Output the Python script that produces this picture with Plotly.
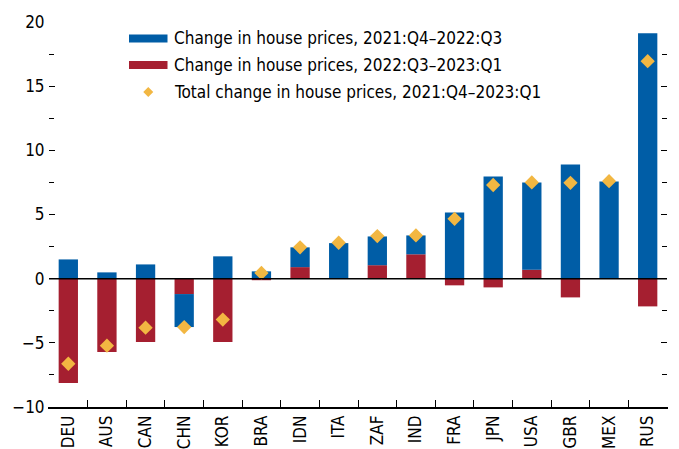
import plotly.graph_objects as go

countries = ["DEU", "AUS", "CAN", "CHN", "KOR", "BRA", "IDN", "ITA", "ZAF", "IND",
             "FRA", "JPN", "USA", "GBR", "MEX", "RUS"]
change_2021q4_2022q3 = [1.5, 0.49, 1.11, -2.57, 1.74, 0.57, 1.54, 2.77, 2.24, 1.47,
                        5.16, 7.97, 6.8, 8.9, 7.58, 19.12]
change_2022q3_2023q1 = [-8.13, -5.71, -4.93, -1.2, -4.93, -0.12, 0.9, 0.0, 1.05, 1.9,
                        -0.52, -0.68, 0.7, -1.46, 0.0, -2.16]
total_change = [-6.63, -5.22, -3.82, -3.77, -3.19, 0.45, 2.44, 2.8, 3.32, 3.37,
                4.66, 7.3, 7.5, 7.47, 7.6, 16.95]
legend_labels = ["Change in house prices, 2021:Q4\u20132022:Q3",
                 "Change in house prices, 2022:Q3\u20132023:Q1",
                 "Total change in house prices, 2021:Q4\u20132023:Q1"]

BLUE = "#005DA6"
RED = "#A51F30"
GOLD = "#F2B742"
FONT = "DejaVu Sans Condensed"

# the page body adds an 8px offset, so the figure is sized to the remaining view
OFF = 8
W, H = 679 - OFF, 449 - OFF
ML, MR, MT, MB = 49 - OFF, 12, 21.5 - OFF, 42.3
PW, PH = W - ML - MR, H - MT - MB

fig = go.Figure()
# red drawn first so it stacks nearest zero
fig.add_trace(go.Bar(x=countries, y=change_2022q3_2023q1, marker_color=RED,
                     marker_line_width=0, name=legend_labels[1], showlegend=False))
fig.add_trace(go.Bar(x=countries, y=change_2021q4_2022q3, marker_color=BLUE,
                     marker_line_width=0, name=legend_labels[0], showlegend=False))
fig.add_trace(go.Scatter(x=countries, y=total_change, mode="markers",
                         marker=dict(symbol="diamond", size=11, color=GOLD),
                         name=legend_labels[2], showlegend=False))

fig.add_hline(y=0, line_color="black", line_width=1.5, layer="above")

# custom legend (reference pixel positions converted to paper coords)
def px(x):
    return (x - OFF - ML) / PW
def py(y):
    return 1 - (y - OFF - MT) / PH

sw_x0, sw_x1 = 129, 167.5
row_y = [38, 64.5, 91.5]
fig.add_shape(type="rect", xref="paper", yref="paper", x0=px(sw_x0), x1=px(sw_x1),
              y0=py(row_y[0] + 4), y1=py(row_y[0] - 4), fillcolor=BLUE, line_width=0)
fig.add_shape(type="rect", xref="paper", yref="paper", x0=px(sw_x0), x1=px(sw_x1),
              y0=py(row_y[1] + 4), y1=py(row_y[1] - 4), fillcolor=RED, line_width=0)
cx, cy, d = (sw_x0 + sw_x1) / 2, row_y[2], 5
fig.add_shape(type="path", xref="paper", yref="paper",
              path=f"M {px(cx)} {py(cy - d)} L {px(cx + d)} {py(cy)} L {px(cx)} {py(cy + d)} "
                   f"L {px(cx - d)} {py(cy)} Z",
              fillcolor=GOLD, line_width=0)
for r, t in zip(row_y, legend_labels):
    fig.add_annotation(x=px(174), y=py(r), xref="paper", yref="paper", text=t,
                       showarrow=False, xanchor="left", yanchor="middle",
                       xshift=-2, font=dict(size=17, color="black", family=FONT))

fig.update_layout(
    template="none",
    barmode="relative",
    bargap=0.5,
    width=W, height=H,
    autosize=False,
    margin=dict(l=ML, r=MR, t=MT, b=MB, pad=0, autoexpand=False),
    plot_bgcolor="white", paper_bgcolor="white",
    font=dict(family=FONT, size=17, color="black"),
    xaxis=dict(showline=True, linecolor="black", linewidth=1.5, ticks="inside",
               tickson="boundaries", ticklen=7, tickcolor="black", tickwidth=1.2,
               tickangle=-90, range=[-0.5, 15.5], showgrid=False,
               automargin=False, tickfont=dict(size=17)),
    yaxis=dict(range=[-10, 20], tickvals=[-10, -5, 0, 5, 10, 15, 20],
               ticktext=["\u221210", "\u22125", "0", "5", "10", "15", "20"],
               ticks="inside", ticklen=6, tickcolor="black", tickwidth=1.2,
               mirror="ticks", showline=True, linecolor="rgba(0,0,0,0)",
               showgrid=False, zeroline=False, automargin=False,
               minor=dict(dtick=2.5, tick0=0, ticks="inside", ticklen=5,
                          tickcolor="black", tickwidth=1.2, showgrid=False),
               tickfont=dict(size=17)),
)

fig.write_html("out.html")
